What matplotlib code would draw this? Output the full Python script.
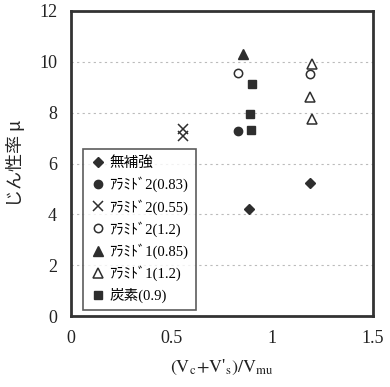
import matplotlib.pyplot as plt

plt.rcParams['font.family'] = ['Liberation Serif', 'Noto Sans CJK JP']
plt.rcParams['mathtext.fontset'] = 'stix'

# data
mu_none_x = [0.885, 1.19]
mu_none_y = [4.2, 5.24]
ar2_083_x = [0.83]
ar2_083_y = [7.28]
ar2_055_x = [0.555, 0.555]
ar2_055_y = [7.1, 7.35]
ar2_12_x = [0.83, 1.19]
ar2_12_y = [9.57, 9.5]
ar1_085_x = [0.855]
ar1_085_y = [10.3]
ar1_12_x = [1.20, 1.19, 1.20]
ar1_12_y = [9.9, 8.6, 7.75]
carbon_x = [0.90, 0.89, 0.895]
carbon_y = [9.13, 7.95, 7.32]

labels = ['無補強', 'ｱﾗﾐﾄﾞ2(0.83)', 'ｱﾗﾐﾄﾞ2(0.55)', 'ｱﾗﾐﾄﾞ2(1.2)',
          'ｱﾗﾐﾄﾞ1(0.85)', 'ｱﾗﾐﾄﾞ1(1.2)', '炭素(0.9)']

c = '#2e2e2e'
fig = plt.figure(figsize=(3.9, 3.87), dpi=100)
ax = fig.add_axes([0.182, 0.183, 0.774, 0.789])

ax.plot(mu_none_x, mu_none_y, 'D', ms=5, color=c, label=labels[0], ls='none')
ax.plot(ar2_083_x, ar2_083_y, 'o', ms=6, color=c, label=labels[1], ls='none')
ax.plot(ar2_055_x, ar2_055_y, 'x', ms=7, mew=1.1, color=c, label=labels[2], ls='none')
ax.plot(ar2_12_x, ar2_12_y, 'o', ms=6, mfc='white', mec=c, mew=1.1, label=labels[3], ls='none')
ax.plot(ar1_085_x, ar1_085_y, '^', ms=7, color=c, label=labels[4], ls='none')
ax.plot(ar1_12_x, ar1_12_y, '^', ms=7, mfc='white', mec=c, mew=1.1, label=labels[5], ls='none')
ax.plot(carbon_x, carbon_y, 's', ms=6, color=c, label=labels[6], ls='none')

ax.set_xlim(0, 1.5)
ax.set_ylim(0, 12)
ax.set_xticks([0, 0.5, 1, 1.5])
ax.set_xticklabels(['0', '0.5', '1', '1.5'])
ax.set_yticks(range(0, 13, 2))
ax.tick_params(length=0, labelsize=13, colors='#222222', pad=10)
ax.yaxis.grid(True, ls=(0, (2, 3)), color='#bbbbbb', lw=0.8)
ax.set_axisbelow(True)
for s in ax.spines.values():
    s.set_linewidth(2)
    s.set_color('#333333')

ax.set_xlabel(r"$\mathrm{(V_c\!+\!V}$'$\mathrm{{}_s)/V_{mu}}$", fontsize=13,
              color='#222222', labelpad=8)
ax.set_ylabel('じん性率 μ', fontsize=13, color='#222222', labelpad=10,
              family=['Noto Sans CJK JP', 'DejaVu Sans'])

leg = ax.legend(loc='lower left', bbox_to_anchor=(0.04, 0.02), fontsize=10.5,
                frameon=True, fancybox=False, edgecolor='#333333',
                borderpad=0.5, labelspacing=0.45, handletextpad=0.3,
                handlelength=1.0, borderaxespad=0)
leg.get_frame().set_linewidth(1.2)

fig.savefig('out.png', dpi=100)
